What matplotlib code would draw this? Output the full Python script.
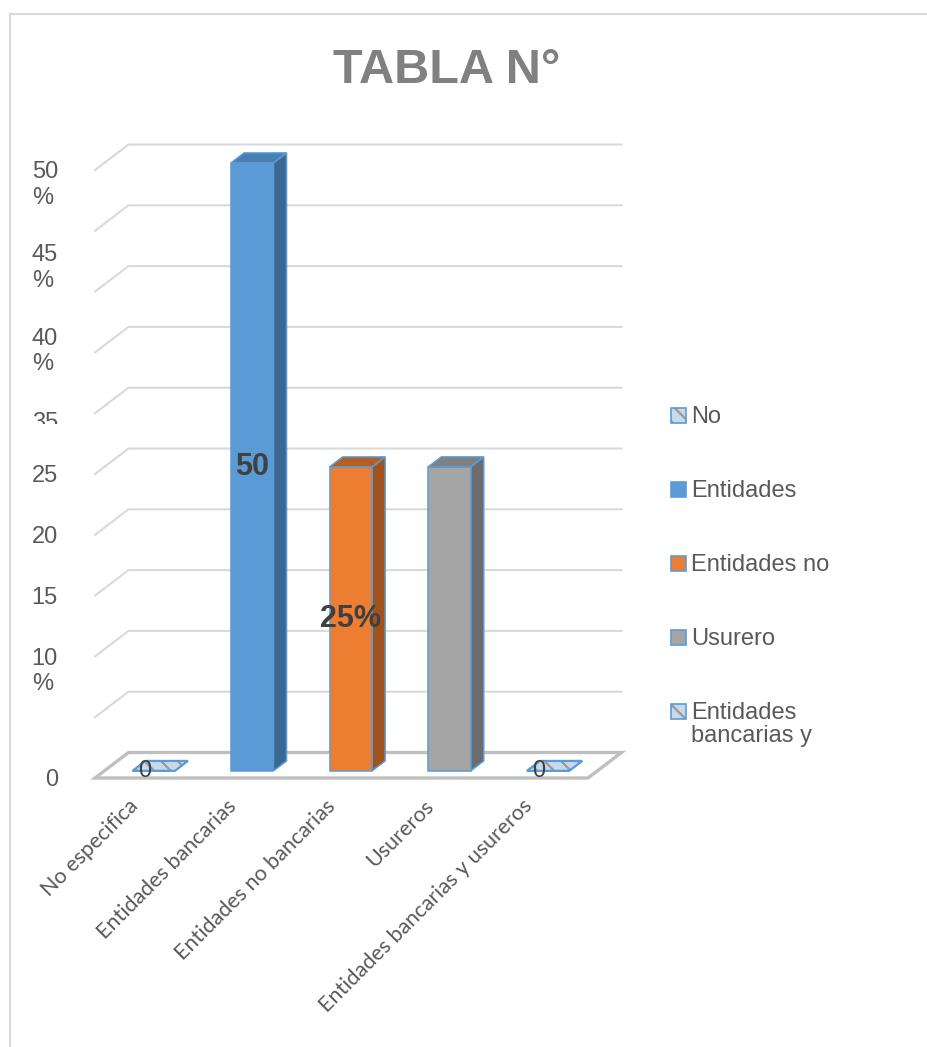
import matplotlib.pyplot as plt
from matplotlib.patches import Polygon, Rectangle
from matplotlib.lines import Line2D

# --- datos ---
categorias = ["No especifica", "Entidades bancarias", "Entidades no bancarias",
              "Usureros", "Entidades bancarias y usureros"]
valores = [0, 50, 25, 25, 0]
etiquetas_valor = ["0", "50", "25%", None, "0"]
leyenda = ["No", "Entidades", "Entidades no", "Usurero", "Entidades\nbancarias y"]

# etiquetas del eje vertical tal como quedaron en la hoja
ytick_texto = ["0", "10\n%", "15", "20", "25", "35", "40\n%", "45\n%", "50\n%"]
ytick_pos = [0, 10, 15, 20, 25, 29.4, 36.3, 43.2, 50]
grid_vals = [5, 10, 15, 20, 25, 30, 35, 40, 45, 50]

# --- estilos por serie ---
cara = ['#c9d9ea', '#5b9bd5', '#ed7d31', '#a5a5a5', '#c9d9ea']
lado = ['#c9d9ea', '#3b6793', '#a0521f', '#6c6c6c', '#c9d9ea']
tapa = ['#c9d9ea', '#4a7fb4', '#b65f23', '#808080', '#c9d9ea']
rayado = [True, False, False, False, True]
borde = '#5b9bd5'

W, H = 927, 1047
X0, Y0 = 95, 778          # esquina frontal izquierda del piso (px)
CAT_PX, PCT_PX = 98.6, 12.16
DX, DY = 33.5 / CAT_PX, 25.5 / PCT_PX   # profundidad del "3D"
Z0, Z1 = 0.28, 0.67
ANCHO = 0.43

plt.rcParams['hatch.linewidth'] = 1.6

fig = plt.figure(figsize=(W / 100, H / 100), dpi=100)
ax = fig.add_axes([0, 0, 1, 1])
ax.set_xlim(-0.5 - X0 / CAT_PX, -0.5 + (W - X0) / CAT_PX)
ax.set_ylim((Y0 - H) / PCT_PX, Y0 / PCT_PX)
ax.axis('off')


def p3(c, v, z):
    return (c + z * DX, v + z * DY)


def fx(px):
    return px / W


def fy(py):
    return 1 - py / H


# marco del gráfico
fig.add_artist(Line2D([fx(10), fx(10)], [fy(14), 0], color='#d9d9d9', lw=1.5))
fig.add_artist(Line2D([fx(10), 1], [fy(14), fy(14)], color='#d9d9d9', lw=1.5))

# titulo
fig.text(fx(447), fy(83), "TABLA N°", ha='center', va='baseline', fontsize=35,
         fontweight='bold', color='#808080', family='Liberation Sans')

# lineas de division (pared del fondo)
for v in grid_vals:
    a, b, c = p3(-0.5, v, 0), p3(-0.5, v, 1), p3(4.5, v, 1)
    ax.plot([a[0], b[0], c[0]], [a[1], b[1], c[1]], color='#d9d9d9', lw=1.5, zorder=1)

# piso
piso = [p3(-0.5, 0, 0), p3(4.5, 0, 0), p3(4.5, 0, 1), p3(-0.5, 0, 1)]
ax.add_patch(Polygon(piso, closed=True, fill=False, edgecolor='#bfbfbf', lw=2.4, zorder=2))

# barras
for i, v in enumerate(valores):
    l, r = i - ANCHO / 2, i + ANCHO / 2
    top = [p3(l, v, Z0), p3(r, v, Z0), p3(r, v, Z1), p3(l, v, Z1)]
    if v > 0:
        front = [p3(l, 0, Z0), p3(r, 0, Z0), p3(r, v, Z0), p3(l, v, Z0)]
        side = [p3(r, 0, Z0), p3(r, 0, Z1), p3(r, v, Z1), p3(r, v, Z0)]
        ax.add_patch(Polygon(side, closed=True, facecolor=lado[i], edgecolor=borde,
                             lw=1.1, zorder=3))
        ax.add_patch(Polygon(front, closed=True, facecolor=cara[i], edgecolor=borde,
                             lw=1.1, zorder=4))
        ax.add_patch(Polygon(top, closed=True, facecolor=tapa[i], edgecolor=borde,
                             lw=1.1, zorder=4))
    else:
        ax.add_patch(Polygon(top, closed=True, facecolor=cara[i], edgecolor='#9a9a9a',
                             lw=0, hatch='\\\\' if rayado[i] else None, zorder=3))
        ax.add_patch(Polygon(top, closed=True, fill=False, edgecolor=borde,
                             lw=1.6, zorder=4))

# etiquetas de datos
for i, (v, t) in enumerate(zip(valores, etiquetas_valor)):
    if t is None:
        continue
    if v > 0:
        x, y = p3(i, v / 2, Z0)
        ax.text(x, y, t, ha='center', va='center', fontsize=22, fontweight='bold',
                color='#404040', family='Liberation Sans', zorder=6)
    else:
        ax.text(i, 0.58, t, ha='center', va='center', fontsize=17,
                color='#404040', family='Liberation Sans', zorder=6)

# eje vertical
x_lab = (58 - X0) / CAT_PX - 0.5
corte = Rectangle((-5, 29.15), 20, 60, transform=ax.transData, visible=False)
ax.add_patch(corte)
for t, pos in zip(ytick_texto, ytick_pos):
    txt = ax.text(x_lab, pos + 0.7, t, ha='right', va='top', multialignment='left',
                  fontsize=17, color='#595959', family='Liberation Sans',
                  linespacing=1.2, clip_on=True)
    if t == "35":
        txt.set_clip_path(corte)
    else:
        txt.set_clip_on(False)

# categorias
for i, nombre in enumerate(categorias):
    ax.text(i - 0.05, -2.4, nombre, rotation=45, rotation_mode='anchor', ha='right',
            va='baseline', fontsize=15.5, color='#595959', family='Lato')

# leyenda
for k, etiqueta in enumerate(leyenda):
    yb = 423 + 74 * k
    sq = Rectangle((fx(671), fy(yb)), 15 / W, 15 / H, transform=fig.transFigure,
                   facecolor=cara[k], edgecolor='#9a9a9a' if rayado[k] else borde,
                   lw=0 if rayado[k] else 1.2, hatch='\\\\' if rayado[k] else None)
    fig.add_artist(sq)
    if rayado[k]:
        fig.add_artist(Rectangle((fx(671), fy(yb)), 15 / W, 15 / H,
                                 transform=fig.transFigure, fill=False,
                                 edgecolor=borde, lw=1.2))
    fig.text(fx(691), fy(yb - 17), etiqueta, ha='left', va='top', fontsize=17,
             color='#595959', family='Liberation Sans', linespacing=1.05)

fig.savefig('out.png', dpi=100, facecolor='white')
